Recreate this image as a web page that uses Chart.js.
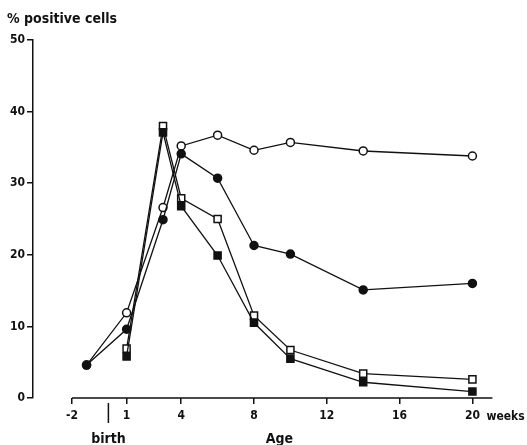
<!DOCTYPE html>
<html>
<head>
<meta charset="utf-8">
<script src="https://cdn.jsdelivr.net/npm/chart.js@4"></script>
<style>
  html, body { margin: 0; padding: 0; background: #fff; }
  #wrap { width: 527px; height: 445px; }
</style>
</head>
<body>
<div id="wrap"><canvas id="ageChart"></canvas></div>
<script>
// weeks of age (birth = 0) and % positive cells
var circleWeeks = [-1.2, 1, 3, 4, 6, 8, 10, 14, 20];
var squareWeeks = [1, 3, 4, 6, 8, 10, 14, 20];
var openCircles = [4.6, 11.9, 26.6, 35.2, 36.7, 34.6, 35.7, 34.5, 33.8];
var filledCircles = [4.6, 9.6, 24.9, 34.1, 30.7, 21.3, 20.1, 15.1, 16.0];
var openSquares = [6.9, 38.0, 27.9, 25.0, 11.5, 6.7, 3.4, 2.6];
var filledSquares = [5.8, 37.1, 26.8, 19.9, 10.5, 5.5, 2.2, 0.9];
var xTicks = [-2, 1, 4, 8, 12, 16, 20];

var ink = '#111';
var fam = '"DejaVu Sans Condensed", "DejaVu Sans", sans-serif';
var labelFont = { family: fam, size: 12, weight: 'bold' };

function points(xs, ys) {
    return xs.map(function (x, i) { return { x: x, y: ys[i] }; });
}

function series(label, xs, ys, style, filled) {
    return {
        label: label,
        data: points(xs, ys),
        borderColor: ink,
        borderWidth: 1.3,
        pointStyle: style,
        pointRadius: style === 'rect' ? 5 : 4,
        pointBorderWidth: 1.5,
        pointBorderColor: ink,
        pointBackgroundColor: filled ? ink : '#fff',
        tension: 0
    };
}

// axis line that stops short of the y axis, birth mark, and the loose labels
var axisExtras = {
    id: 'axisExtras',
    afterDraw: function (chart) {
        var ctx = chart.ctx, x = chart.scales.x, y = chart.scales.y;
        var base = y.getPixelForValue(0);
        var bx = x.getPixelForValue(0);
        ctx.save();
        ctx.strokeStyle = ink;
        ctx.lineWidth = 1.5;
        ctx.beginPath();
        ctx.moveTo(x.getPixelForValue(-2), base);
        ctx.lineTo(x.getPixelForValue(21.1), base);
        ctx.moveTo(bx, base + 5);
        ctx.lineTo(bx, base + 25);
        ctx.stroke();

        ctx.fillStyle = ink;
        ctx.textBaseline = 'alphabetic';
        ctx.textAlign = 'center';
        ctx.font = 'bold 14px ' + fam;
        ctx.fillText('birth', bx, base + 45);
        ctx.fillText('Age', x.getPixelForValue(9.4), base + 45);
        ctx.textBaseline = 'middle';
        ctx.textAlign = 'left';
        ctx.font = 'bold 12px ' + fam;
        ctx.fillText('weeks', x.getPixelForValue(20) + 14, base + 19);
        ctx.font = 'bold 14px ' + fam;
        ctx.fillText('% positive cells', 7, 19);
        ctx.restore();
    }
};

new Chart(document.getElementById('ageChart'), {
    type: 'line',
    data: {
        datasets: [
            series('filled circles', circleWeeks, filledCircles, 'circle', true),
            series('open circles', circleWeeks, openCircles, 'circle', false),
            series('filled squares', squareWeeks, filledSquares, 'rect', true),
            series('open squares', squareWeeks, openSquares, 'rect', false)
        ]
    },
    options: {
        responsive: true,
        maintainAspectRatio: false,
        animation: false,
        layout: { padding: { left: 5, top: 40, right: 12, bottom: 0 } },
        plugins: { legend: { display: false }, tooltip: { enabled: false } },
        scales: {
            x: {
                type: 'linear',
                min: -4.143,
                max: 22.34,
                afterBuildTicks: function (s) {
                    s.ticks = xTicks.map(function (v) { return { value: v }; });
                },
                afterFit: function (s) { s.height = 47; },
                border: { display: false },
                grid: { drawOnChartArea: false, drawTicks: true, tickLength: 6, color: ink, lineWidth: 1.5 },
                ticks: { color: ink, font: labelFont, padding: 5, maxRotation: 0 }
            },
            y: {
                min: 0,
                max: 50,
                afterFit: function (s) { s.width = 28; },
                border: { display: true, color: ink, width: 1.5 },
                grid: { drawOnChartArea: false, drawTicks: true, tickLength: 6, color: ink, lineWidth: 1.5 },
                ticks: { stepSize: 10, color: ink, font: labelFont, padding: 2 }
            }
        }
    },
    plugins: [axisExtras]
});
</script>
</body>
</html>
